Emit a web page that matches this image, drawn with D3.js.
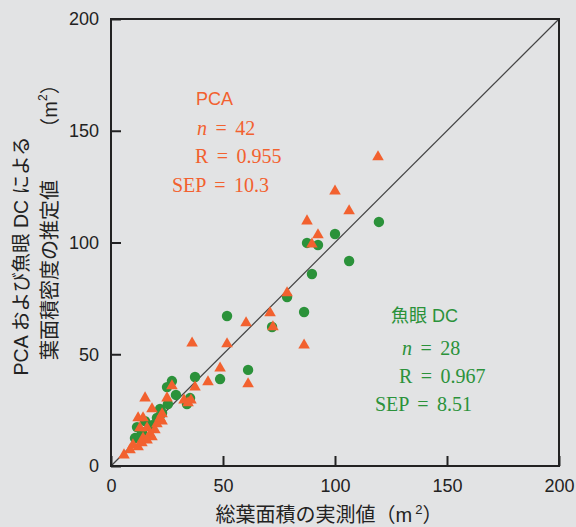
<!DOCTYPE html>
<html><head><meta charset="utf-8">
<script src="https://cdn.jsdelivr.net/npm/d3@7"></script>
<style>
html,body{margin:0;padding:0;background:#e2e3e4;}
svg{display:block;}
</style></head>
<body>
<script>
// Data (actual total leaf area, estimated leaf area)
const pcaX = [119.2,100.0,106.3,87.5,92.4,89.7,78.6,71.0,72.3,60.3,51.8,36.2,86.2,48.7,43.3,61.2,37.5,27.2,15.2,25.0,32.6,35.7,18.3,12.1,14.3,22.8,22.8,12.9,16.1,20.5,17.4,14.3,9.8,12.1,8.5,18.3,13.8,5.8,34.4,19.6,16.1,21.9];
const pcaY = [138.3,123.0,114.1,109.6,103.4,99.3,77.4,68.5,62.2,64.0,54.6,55.0,54.1,43.8,37.6,36.7,35.3,35.8,30.4,30.4,29.5,29.5,25.5,21.5,21.5,23.3,20.1,17.0,17.0,18.8,14.3,12.5,9.4,8.5,7.2,13.0,10.3,4.9,28.2,16.1,11.6,21.5];
const dcX = [119.6,100.0,87.5,92.4,106.3,89.7,78.6,86.2,51.8,71.9,61.2,48.7,37.5,27.2,25.0,35.3,33.9,21.9,22.8,11.6,10.7,12.9,15.2,18.3,20.5,25.4,13.8,29.0];
const dcY = [109.2,103.8,99.8,98.9,91.7,85.9,75.6,68.9,67.1,62.2,43.0,38.9,39.8,38.0,35.3,30.4,27.7,25.5,23.7,17.4,12.5,13.0,20.1,18.3,21.5,27.7,15.2,31.8];
const ticks = [0,50,100,150,200];
const pcaLabels = ["PCA","= 42","R = 0.955","SEP = 10.3"];
const dcLabels = ["魚眼 DC","= 28","R = 0.967","SEP = 8.51"];

const W=576,H=527;
const orange="#f2612f", green="#2b923a", ink="#222";
const sans='"Liberation Sans", Arial, "Noto Sans CJK JP", sans-serif';
const serif='"Liberation Serif", "Times New Roman", serif';

const svg=d3.select("body").append("svg").attr("width",W).attr("height",H);
svg.append("rect").attr("width",W).attr("height",H).attr("fill","#e2e3e4");

const x=d3.scaleLinear().domain([0,200]).range([111,559]);
const y=d3.scaleLinear().domain([0,200]).range([466,19]);

// 1:1 line
svg.append("line").attr("x1",x(0)).attr("y1",y(0)).attr("x2",x(200)).attr("y2",y(200))
  .attr("stroke","#444").attr("stroke-width",1.2);

// circles (fisheye DC)
svg.append("g").selectAll("circle").data(dcX.map((v,i)=>[v,dcY[i]])).join("circle")
  .attr("cx",d=>x(d[0])).attr("cy",d=>y(d[1])).attr("r",5.2).attr("fill",green);

// triangles (PCA)
const tri=d3.symbol().type(d3.symbolTriangle).size(58);
svg.append("g").selectAll("path").data(pcaX.map((v,i)=>[v,pcaY[i]])).join("path")
  .attr("d",tri).attr("transform",d=>`translate(${x(d[0])},${y(d[1])})`).attr("fill",orange);

// axes
const gx=svg.append("g").attr("transform",`translate(0,${y(0)})`)
  .call(d3.axisBottom(x).tickValues(ticks).tickSizeInner(-10).tickSizeOuter(0).tickPadding(13));
const gy=svg.append("g").attr("transform",`translate(${x(0)},0)`)
  .call(d3.axisLeft(y).tickValues(ticks).tickSizeInner(-10).tickSizeOuter(0).tickPadding(12));
[gx,gy].forEach(g=>{
  g.select(".domain").remove();
  g.selectAll(".tick line").attr("stroke",ink).attr("stroke-width",2);
  g.selectAll(".tick text").attr("fill",ink).style("font-family",sans).style("font-size","18px");
});
gx.selectAll(".tick text").attr("dy","0.72em");

// frame
svg.append("rect").attr("x",x(0)).attr("y",y(200)).attr("width",x(200)-x(0)).attr("height",y(0)-y(200))
  .attr("fill","none").attr("stroke",ink).attr("stroke-width",2);

// x title
const xt=svg.append("text").attr("x",329).attr("y",522).attr("text-anchor","middle")
  .attr("fill",ink).style("font-family",sans).style("font-size","20px");
xt.append("tspan").text("総葉面積の実測値（m");
xt.append("tspan").attr("dx",3).attr("dy",-8).style("font-size","13px").text("2");
xt.append("tspan").attr("dy",8).text("）");

// y title
svg.append("text").attr("transform","translate(21,256) rotate(-90)").attr("text-anchor","middle")
  .attr("dominant-baseline","central").attr("fill",ink).style("font-family",sans).style("font-size","19.5px")
  .text("PCA および魚眼 DC による");
svg.append("text").attr("transform","translate(50,270) rotate(-90)").attr("text-anchor","middle")
  .attr("dominant-baseline","central").attr("fill",ink).style("font-family",sans).style("font-size","20px")
  .text("葉面積密度の推定値");
const yu=svg.append("text").attr("transform","translate(50,106) rotate(-90)").attr("text-anchor","middle")
  .attr("dominant-baseline","central").attr("fill",ink).style("font-family",sans).style("font-size","20px");
yu.append("tspan").text("（m");
yu.append("tspan").attr("dy",-7).style("font-size","12px").text("2");
yu.append("tspan").attr("dy",7).text("）");

// stats blocks
function block(labels,color,pos){
  svg.append("text").attr("x",pos[0][0]).attr("y",pos[0][1]).attr("fill",color)
    .style("font-family",sans).style("font-size","18px").text(labels[0]);
  const t=svg.append("text").attr("x",pos[1][0]).attr("y",pos[1][1]).attr("fill",color)
    .style("font-family",serif).style("font-size","20px").style("word-spacing","3.5px");
  t.append("tspan").style("font-style","italic").text("n");
  t.append("tspan").text(" "+labels[1]);
  for(let i=2;i<4;i++){
    svg.append("text").attr("x",pos[i][0]).attr("y",pos[i][1]).attr("fill",color)
      .style("font-family",serif).style("font-size","20px").style("word-spacing","3.5px").text(labels[i]);
  }
}
block(pcaLabels,orange,[[196,105],[197,135],[195,163],[172,192]]);
block(dcLabels,green,[[391,322],[402,355],[399,383],[375,411]]);
</script>
</body></html>
